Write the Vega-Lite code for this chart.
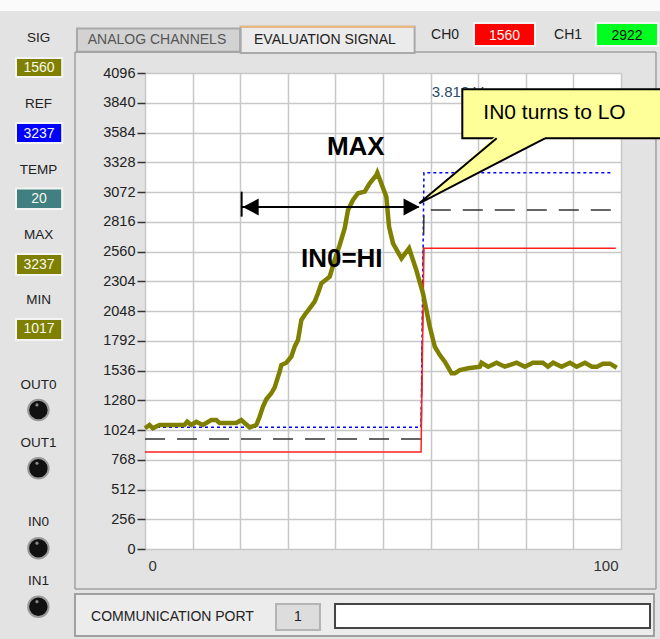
{
  "$schema": "https://vega.github.io/schema/vega-lite/v6.json",
  "width": 476,
  "height": 476,
  "autosize": "none",
  "padding": {"left": 145, "top": 73, "right": 39, "bottom": 90},
  "background": "#e3e3e3",
  "view": {"fill": "#ffffff", "stroke": null},
  "config": {"font": "Liberation Sans"},
  "encoding": {
    "x": {"field": "x", "type": "quantitative",
      "scale": {"domain": [0, 100], "nice": false, "zero": false},
      "axis": {"values": [0, 10, 20, 30, 40, 50, 60, 70, 80, 90, 100],
        "labelExpr": "datum.value==0||datum.value==100?datum.label:''",
        "labelFlush": true, "labelFlushOffset": -3, "labelOverlap": false, "ticks": false, "domain": false,
        "grid": true, "gridColor": "#c8c8c8", "gridWidth": 1.5, "title": null,
        "labelFont": "Liberation Sans", "labelFontSize": 15,
        "labelColor": "#333333", "labelPadding": 9}},
    "y": {"field": "y", "type": "quantitative",
      "scale": {"domain": [0, 4096], "nice": false, "zero": false},
      "axis": {"values": [0, 256, 512, 768, 1024, 1280, 1536, 1792, 2048, 2304, 2560, 2816, 3072, 3328, 3584, 3840, 4096],
        "format": "d", "labelOverlap": false, "tickSize": 8, "tickColor": "#333333", "tickWidth": 1.5,
        "domain": false, "grid": true, "gridColor": "#c8c8c8", "gridWidth": 1.5, "title": null,
        "labelFont": "Liberation Sans", "labelFontSize": 14.5,
        "labelColor": "#222222", "labelPadding": 2}}
  },
  "layer": [
    {
      "data": {"values": [
        {"x": -31, "x2": 110, "y": 4724, "y2": 4638, "k": "white"},
        {"x": -14.29, "x2": 19.96, "y": 4480, "y2": 4279, "k": "tab"},
        {"x": 20.1, "x2": 56.64, "y": 4495, "y2": 4268, "k": "tabact"},
        {"x": 69.12, "x2": 81.93, "y": 4526, "y2": 4328, "k": "red"},
        {"x": 94.75, "x2": 107.77, "y": 4526, "y2": 4328, "k": "green"},
        {"x": -27.1, "x2": -17.4, "y": 4225, "y2": 4062, "k": "olive"},
        {"x": -27.1, "x2": -17.4, "y": 3666, "y2": 3494, "k": "blue"},
        {"x": -27.1, "x2": -17.4, "y": 3102, "y2": 2926, "k": "teal"},
        {"x": -27.1, "x2": -17.4, "y": 2538, "y2": 2358, "k": "olive"},
        {"x": -27.1, "x2": -17.4, "y": 1979, "y2": 1798, "k": "olive"},
        {"x": -14.71, "x2": 106.93, "y": -387, "y2": -749, "k": "panel"},
        {"x": 27.52, "x2": 36.76, "y": -473, "y2": -697, "k": "port"},
        {"x": 39.92, "x2": 106.09, "y": -473, "y2": -680, "k": "input"}
      ]},
      "mark": {"type": "rect", "strokeWidth": 2},
      "encoding": {
        "x2": {"field": "x2"},
        "y2": {"field": "y2"},
        "fill": {"field": "k", "type": "nominal", "legend": null,
          "scale": {"domain": ["white", "tab", "tabact", "red", "green", "olive", "blue", "teal", "panel", "port", "input"],
            "range": ["#fbfbfb", "#d2d2d2", "#ebebeb", "#ff0000", "#00ff21", "#808000", "#0000ff", "#408080", "#ececec", "#dddddd", "#ffffff"]}},
        "stroke": {"field": "k", "type": "nominal", "legend": null,
          "scale": {"domain": ["white", "tab", "tabact", "red", "green", "olive", "blue", "teal", "panel", "port", "input"],
            "range": ["#fbfbfb", "#a9a9a9", "#a9a9a9", "#f4f4f4", "#f4f4f4", "#f4f4f4", "#f4f4f4", "#f4f4f4", "#a0a0a0", "#b4b4b4", "#444444"]}}
      }
    },
    {
      "data": {"values": [
        {"x": -14.71, "x2": -14.71, "y": 4277, "y2": -344},
        {"x": -14.71, "x2": 20.1, "y": 4277, "y2": 4277},
        {"x": 56.64, "x2": 107.35, "y": 4277, "y2": 4277},
        {"x": 107.35, "x2": 107.35, "y": 4277, "y2": -344},
        {"x": -14.71, "x2": 107.35, "y": -344, "y2": -344}
      ]},
      "mark": {"type": "rule", "color": "#a0a0a0", "strokeWidth": 1.5},
      "encoding": {"x2": {"field": "x2"}, "y2": {"field": "y2"}}
    },
    {
      "data": {"values": [{"x": 20.1, "x2": 56.64, "y": 4495, "y2": 4495}]},
      "mark": {"type": "rule", "color": "#f0b878", "strokeWidth": 2},
      "encoding": {"x2": {"field": "x2"}, "y2": {"field": "y2"}}
    },
    {
      "data": {"values": [
        {"x": -22.4, "y": 1196}, {"x": -22.4, "y": 694}, {"x": -22.4, "y": 6}, {"x": -22.4, "y": -497}
      ]},
      "mark": {"type": "point", "shape": "circle", "filled": true, "fill": "#111111", "stroke": "#9a9a9a", "strokeWidth": 2, "size": 420, "opacity": 1}
    },
    {
      "data": {"values": [
        {"x": -22.7, "y": 1240}, {"x": -22.7, "y": 738}, {"x": -22.7, "y": 50}, {"x": -22.7, "y": -453}
      ]},
      "mark": {"type": "point", "shape": "circle", "filled": true, "fill": "#8a8a8a", "size": 10, "opacity": 1}
    },
    {
      "data": {"values": [
        {"x": -22.37, "y": 4395, "t": "SIG"},
        {"x": -22.37, "y": 3829, "t": "REF"},
        {"x": -22.37, "y": 3261, "t": "TEMP"},
        {"x": -22.37, "y": 2706, "t": "MAX"},
        {"x": -22.37, "y": 2143, "t": "MIN"},
        {"x": -22.37, "y": 1411, "t": "OUT0"},
        {"x": -22.37, "y": 912, "t": "OUT1"},
        {"x": -22.37, "y": 230, "t": "IN0"},
        {"x": -22.37, "y": -273, "t": "IN1"}
      ]},
      "mark": {"type": "text", "font": "Liberation Sans", "fontSize": 13.5, "color": "#222222", "align": "center", "baseline": "middle"},
      "encoding": {"text": {"field": "t"}}
    },
    {
      "data": {"values": [
        {"x": 63.03, "y": 4423, "t": "CH0"},
        {"x": 88.87, "y": 4423, "t": "CH1"},
        {"x": 37.8, "y": 4380, "t": "EVALUATION SIGNAL"},
        {"x": 5.78, "y": -585, "t": "COMMUNICATION PORT"},
        {"x": 32.14, "y": -585, "t": "1"}
      ]},
      "mark": {"type": "text", "font": "Liberation Sans", "fontSize": 14, "color": "#222222", "align": "center", "baseline": "middle"},
      "encoding": {"text": {"field": "t"}}
    },
    {
      "data": {"values": [{"x": 2.52, "y": 4376, "t": "ANALOG CHANNELS"}]},
      "mark": {"type": "text", "font": "Liberation Sans", "fontSize": 14, "color": "#555555", "align": "center", "baseline": "middle"},
      "encoding": {"text": {"field": "t"}}
    },
    {
      "data": {"values": [
        {"x": -22.25, "y": 4139, "t": "1560"},
        {"x": -22.25, "y": 3575, "t": "3237"},
        {"x": -22.25, "y": 3012, "t": "20"},
        {"x": -22.25, "y": 2448, "t": "3237"},
        {"x": -22.25, "y": 1889, "t": "1017"},
        {"x": 75.53, "y": 4415, "t": "1560"}
      ]},
      "mark": {"type": "text", "font": "Liberation Sans", "fontSize": 14, "color": "#f8f8ec", "align": "center", "baseline": "middle"},
      "encoding": {"text": {"field": "t"}}
    },
    {
      "data": {"values": [{"x": 101.26, "y": 4415, "t": "2922"}]},
      "mark": {"type": "text", "font": "Liberation Sans", "fontSize": 14, "color": "#111111", "align": "center", "baseline": "middle"},
      "encoding": {"text": {"field": "t"}}
    },
    {
      "data": {"values": [
        {"x": 0, "y": 1047}, {"x": 58, "y": 1047}, {"x": 58.6, "y": 3237}, {"x": 98, "y": 3237}
      ]},
      "mark": {"type": "line", "color": "#0000ff", "strokeWidth": 1.5, "strokeDash": [3, 3]},
      "encoding": {}
    },
    {
      "data": {"values": [
        {"x": 0, "y": 946}, {"x": 58, "y": 946}, {"x": 58.6, "y": 2917}, {"x": 98, "y": 2917}
      ]},
      "mark": {"type": "line", "color": "#333333", "strokeWidth": 1.5, "strokeDash": [20, 12]},
      "encoding": {}
    },
    {
      "data": {"values": [
        {"x": 0, "y": 835}, {"x": 58, "y": 835}, {"x": 58.6, "y": 2587}, {"x": 98.9, "y": 2587}
      ]},
      "mark": {"type": "line", "color": "#ff2020", "strokeWidth": 1.5},
      "encoding": {}
    },
    {
      "data": {"values": [
        {"x": 0, "y": 1039}, {"x": 0.95, "y": 1067}, {"x": 1.64, "y": 1039}, {"x": 3.05, "y": 1067},
        {"x": 4.1, "y": 1067}, {"x": 8.3, "y": 1067}, {"x": 8.87, "y": 1095}, {"x": 9.72, "y": 1067},
        {"x": 10.77, "y": 1095}, {"x": 12.16, "y": 1067}, {"x": 13.92, "y": 1110}, {"x": 14.97, "y": 1110},
        {"x": 15.67, "y": 1084}, {"x": 19.18, "y": 1084}, {"x": 20.23, "y": 1110}, {"x": 20.93, "y": 1084},
        {"x": 21.98, "y": 1047}, {"x": 23.39, "y": 1067}, {"x": 24.08, "y": 1138}, {"x": 24.77, "y": 1224},
        {"x": 25.49, "y": 1288}, {"x": 26.54, "y": 1340}, {"x": 27.24, "y": 1391}, {"x": 28.29, "y": 1526},
        {"x": 28.64, "y": 1583}, {"x": 29.69, "y": 1603}, {"x": 30.74, "y": 1655}, {"x": 31.44, "y": 1741},
        {"x": 32.14, "y": 1798}, {"x": 32.85, "y": 1971}, {"x": 33.54, "y": 2014}, {"x": 34.59, "y": 2071},
        {"x": 35.64, "y": 2128}, {"x": 36.34, "y": 2200}, {"x": 37.06, "y": 2286}, {"x": 38.8, "y": 2343},
        {"x": 39.85, "y": 2487}, {"x": 40.9, "y": 2616}, {"x": 41.96, "y": 2760}, {"x": 42.65, "y": 2917},
        {"x": 43.7, "y": 3003}, {"x": 44.75, "y": 3061}, {"x": 46.16, "y": 3075}, {"x": 47.21, "y": 3147},
        {"x": 48.6, "y": 3218}, {"x": 48.8, "y": 3237}, {"x": 50.7, "y": 3031}, {"x": 51.27, "y": 2773},
        {"x": 52.1, "y": 2630}, {"x": 53.88, "y": 2501}, {"x": 55.48, "y": 2588}, {"x": 57.0, "y": 2400},
        {"x": 58.4, "y": 2200}, {"x": 59.83, "y": 1913}, {"x": 60.88, "y": 1741}, {"x": 61.94, "y": 1669},
        {"x": 62.99, "y": 1612}, {"x": 64.4, "y": 1512}, {"x": 65.09, "y": 1512}, {"x": 66.14, "y": 1540},
        {"x": 67.89, "y": 1555}, {"x": 70.35, "y": 1569}, {"x": 70.7, "y": 1603}, {"x": 72.1, "y": 1569},
        {"x": 73.86, "y": 1603}, {"x": 75.6, "y": 1569}, {"x": 78.07, "y": 1603}, {"x": 79.8, "y": 1569},
        {"x": 81.5, "y": 1603}, {"x": 83.6, "y": 1603}, {"x": 84.65, "y": 1569}, {"x": 85.76, "y": 1603},
        {"x": 87.53, "y": 1569}, {"x": 89.27, "y": 1603}, {"x": 90.68, "y": 1569}, {"x": 92.43, "y": 1603},
        {"x": 93.9, "y": 1569}, {"x": 94.95, "y": 1569}, {"x": 96.2, "y": 1595}, {"x": 97.7, "y": 1595},
        {"x": 99.1, "y": 1560}
      ]},
      "mark": {"type": "line", "color": "#808000", "strokeWidth": 4.5},
      "encoding": {}
    },
    {
      "data": {"values": [{"x": 20.3, "y": 2943}, {"x": 57.5, "y": 2943}]},
      "mark": {"type": "line", "color": "#000000", "strokeWidth": 2},
      "encoding": {}
    },
    {
      "data": {"values": [{"x": 20.3, "y": 2860, "y2": 3075}]},
      "mark": {"type": "rule", "color": "#000000", "strokeWidth": 2},
      "encoding": {"y2": {"field": "y2"}}
    },
    {
      "data": {"values": [{"x": 22.2, "y": 2943}]},
      "mark": {"type": "point", "shape": "M -1 0 L 1 -1.05 L 1 1.05 Z", "filled": true, "color": "#000000", "size": 256, "opacity": 1}
    },
    {
      "data": {"values": [{"x": 56.0, "y": 2943}]},
      "mark": {"type": "point", "shape": "M 1 0 L -1 -1.05 L -1 1.05 Z", "filled": true, "color": "#000000", "size": 256, "opacity": 1}
    },
    {
      "data": {"values": [{"x": 60.23, "y": 3930, "t": "3.819 V"}]},
      "mark": {"type": "text", "font": "Liberation Sans", "fontSize": 15, "color": "#2a4a6a", "align": "left", "baseline": "middle"},
      "encoding": {"text": {"field": "t"}}
    },
    {
      "data": {"values": [{"x": 66.66, "x2": 109, "y": 3956, "y2": 3534}]},
      "mark": {"type": "rect", "fill": "#ffff99", "stroke": "#000000", "strokeWidth": 2},
      "encoding": {"x2": {"field": "x2"}, "y2": {"field": "y2"}}
    },
    {
      "data": {"values": [
        {"x": 57.63, "y": 2975, "y2": 2975},
        {"x": 73.89, "y": 3560, "y2": 3319},
        {"x": 84.03, "y": 3560, "y2": 3534}
      ]},
      "mark": {"type": "area", "fill": "#ffff99", "opacity": 1},
      "encoding": {"y2": {"field": "y2"}}
    },
    {
      "data": {"values": [
        {"x": 73.89, "y": 3534, "o": 0},
        {"x": 57.63, "y": 2975, "o": 1},
        {"x": 84.03, "y": 3534, "o": 2}
      ]},
      "mark": {"type": "line", "color": "#000000", "strokeWidth": 2},
      "encoding": {"order": {"field": "o", "type": "quantitative"}}
    },
    {
      "data": {"values": [{"x": 71.07, "y": 3754, "t": "IN0 turns to LO"}]},
      "mark": {"type": "text", "font": "Liberation Sans", "fontSize": 21, "color": "#000000", "align": "left", "baseline": "middle"},
      "encoding": {"text": {"field": "t"}}
    },
    {
      "data": {"values": [
        {"x": 44.29, "y": 3457, "t": "MAX"},
        {"x": 41.34, "y": 2495, "t": "IN0=HI"}
      ]},
      "mark": {"type": "text", "font": "Liberation Sans", "fontSize": 26, "fontWeight": "bold", "color": "#000000", "align": "center", "baseline": "middle"},
      "encoding": {"text": {"field": "t"}}
    }
  ]
}
